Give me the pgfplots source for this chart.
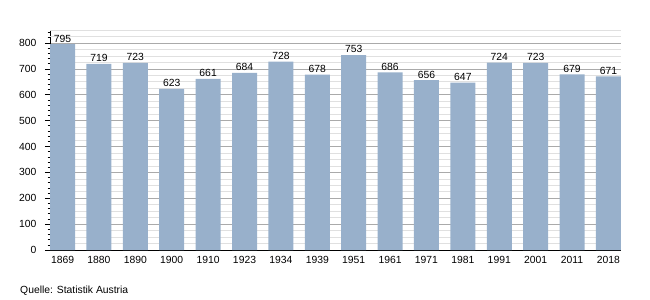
\documentclass[border=0pt]{standalone}
\usepackage{pgfplots}
\pgfplotsset{compat=1.18}
\usepackage{fontspec}
\setmainfont{Liberation Sans}
\definecolor{barblue}{RGB}{152,176,203}
\definecolor{majgrid}{RGB}{170,170,170}
\definecolor{mingrid}{RGB}{224,224,224}
\begin{document}
\begin{tikzpicture}
\useasboundingbox (0,0) rectangle (650bp,300bp);
\begin{axis}[
  at={(50bp,50bp)}, anchor=south west,
  scale only axis, width=571bp, height=220bp,
  xmin=-0.345, xmax=15.345, ymin=0, ymax=850,
  axis lines*=left,
  axis line style={black, line width=0.8pt},
  xtick=data,
  xticklabels={1869,1880,1890,1900,1910,1923,1934,1939,1951,1961,1971,1981,1991,2001,2011,2018},
  xtick style={draw=none},
  ytick={0,100,...,800},
  minor ytick={0,20,...,840},
  tick align=outside,
  major tick length=5bp, minor tick length=2.5bp,
  ytick style={black, line width=0.6pt},
  ymajorgrids, major grid style={majgrid, line width=0.6pt},
  extra y ticks={25,50,75,125,150,175,225,250,275,325,350,375,425,450,475,525,550,575,625,650,675,725,750,775,825,850},
  extra y tick labels={},
  extra y tick style={grid=major, major grid style={mingrid, line width=0.6pt}, major tick length=0pt, tick style={draw=none}},
  ticklabel style={font=\fontsize{10.4}{12}\selectfont, text=black},
  /pgf/number format/assume math mode=true,
  yticklabel style={xshift=-5bp},
  xticklabel style={yshift=2bp},
  clip=false,
]
\addplot[ybar, bar width=25bp, fill=barblue, draw=none,
  nodes near coords, nodes near coords style={font=\fontsize{10.4}{12}\selectfont, text=black, yshift=-1.5bp}]
  coordinates {(0,795) (1,719) (2,723) (3,623) (4,661) (5,684) (6,728) (7,678) (8,753) (9,686) (10,656) (11,647) (12,724) (13,723) (14,679) (15,671)};
\end{axis}
\node[anchor=base west, font=\fontsize{10.4}{12}\selectfont, inner sep=0pt] at (20bp,7bp) {Quelle: Statistik Austria};
\end{tikzpicture}
\end{document}
